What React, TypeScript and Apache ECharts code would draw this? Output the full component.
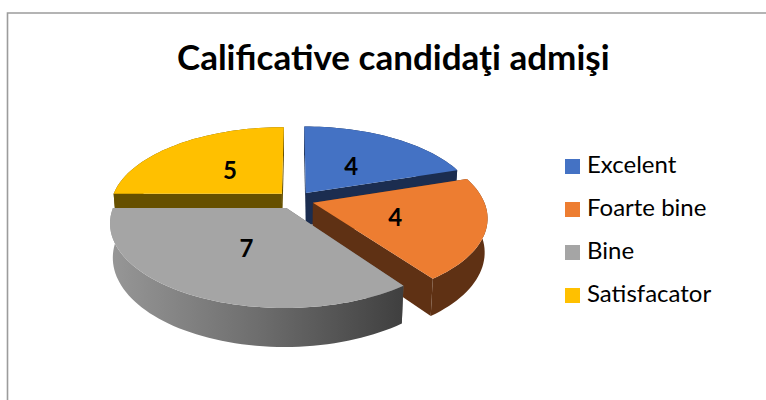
import React, { useEffect, useRef } from "react";
import * as echarts from "echarts";

const titleText = "Calificative candidaţi admişi";
const categories = ["Excelent", "Foarte bine", "Bine", "Satisfacator"];
const values = [4, 4, 7, 5];
const topColors = ["#4472C4", "#ED7D31", "#A5A5A5", "#FFC000"];
const wallColors = ["#1B2D50", "#5F3114", "#6C6C6C", "#665000"];
// painter's order: yellow, blue, orange, gray
const sliceZ = [3, 4, 5, 2];

const total = values.reduce((a, b) => a + b, 0);
const FONT = "Lato, Carlito, sans-serif";

// Perspective view of the pie disc
const CX = 295;
const CY = 200;
const RX = 170.5;
const RY = 80;
const K = 0.17;
const DEPTH = 33;
const BOTTOM_SCALE = 0.985;
const EXPLODE = 0.11;
const STEP = 2;

const rad = (d: number) => (d * Math.PI) / 180;

function project(u: number, v: number, bottom: boolean): number[] {
  const den = 1 + K * v;
  const s = bottom ? BOTTOM_SCALE : 1;
  return [CX + (RX * s * u) / den, CY - (RY * s * v) / den + (bottom ? DEPTH / den : 0)];
}

function renderSlice(index: number) {
  return (_params: any, api: any) => {
    const value = api.value(0);
    let before = 0;
    for (let i = 0; i < index; i++) before += values[i];
    const a0 = (before / total) * 360;
    const a1 = a0 + (value / total) * 360;
    const mid = (a0 + a1) / 2;
    const ex = EXPLODE * Math.sin(rad(mid));
    const ey = EXPLODE * Math.cos(rad(mid));
    const at = (a: number, r: number, bottom: boolean) =>
      project(ex + r * Math.sin(rad(a)), ey + r * Math.cos(rad(a)), bottom);

    const arcTop: number[][] = [];
    const arcBottom: number[][] = [];
    for (let a = a0; a < a1; a += STEP) {
      arcTop.push(at(a, 1, false));
      arcBottom.push(at(a, 1, true));
    }
    arcTop.push(at(a1, 1, false));
    arcBottom.push(at(a1, 1, true));

    const apexTop = at(mid, 0, false);
    const apexBottom = at(mid, 0, true);
    const wall: any =
      index === 2
        ? {
            type: "linear",
            x: 0,
            y: 0,
            x2: 1,
            y2: 0,
            colorStops: [
              { offset: 0, color: "#979797" },
              { offset: 0.5, color: "#6E6E6E" },
              { offset: 1, color: "#3F3F3F" },
            ],
          }
        : wallColors[index];

    const poly = (points: number[][], fill: any) => ({
      type: "polygon",
      shape: { points },
      style: { fill, stroke: null },
    });
    const labelPos = at(mid, 0.48, false);

    return {
      type: "group",
      children: [
        poly([apexTop, at(a0, 1, false), at(a0, 1, true), apexBottom], wallColors[index]),
        poly([apexTop, at(a1, 1, false), at(a1, 1, true), apexBottom], wallColors[index]),
        poly([...arcTop, ...arcBottom.slice().reverse()], wall),
        poly([apexTop, ...arcTop], topColors[index]),
        {
          type: "text",
          style: {
            text: String(value),
            x: labelPos[0] + 1.5,
            y: labelPos[1] + 1,
            fill: "#000000",
            font: `bold 24px ${FONT}`,
            align: "center",
            verticalAlign: "middle",
          },
        },
      ],
    };
  };
}

export default function App() {
  const ref = useRef<HTMLDivElement>(null);
  useEffect(() => {
    document.body.style.margin = "0";
    const chart = echarts.init(ref.current!, null, { renderer: "svg" });
    chart.setOption({
      animation: false,
      backgroundColor: "#ffffff",
      color: topColors,
      title: {
        text: titleText,
        left: 177,
        top: 38,
        padding: 0,
        textStyle: { fontFamily: FONT, fontWeight: "bold", fontSize: 35, color: "#000000" },
      },
      legend: {
        data: categories,
        orient: "vertical",
        left: 565,
        top: 151,
        padding: 0,
        itemWidth: 15,
        itemHeight: 15,
        itemGap: 12,
        icon: "rect",
        selectedMode: false,
        formatter: "{t|{name}}",
        textStyle: {
          rich: {
            t: {
              fontFamily: FONT,
              fontSize: 24,
              color: "#000000",
              lineHeight: 24,
              padding: [0, 0, 7, 2],
            },
          },
        },
      },
      graphic: [
        {
          type: "polyline",
          silent: true,
          shape: { points: [[7.5, 400], [7.5, 13], [766, 13]] },
          style: { stroke: "#9C9C9C", lineWidth: 1.6, fill: null },
        },
      ],
      series: categories.map((name, i) => ({
        type: "custom",
        name,
        coordinateSystem: "none",
        z: sliceZ[i],
        itemStyle: { color: topColors[i] },
        renderItem: renderSlice(i),
        data: [[values[i]]],
        silent: true,
      })),
    });
    return () => chart.dispose();
  }, []);
  return <div ref={ref} style={{ width: 766, height: 400 }} />;
}
